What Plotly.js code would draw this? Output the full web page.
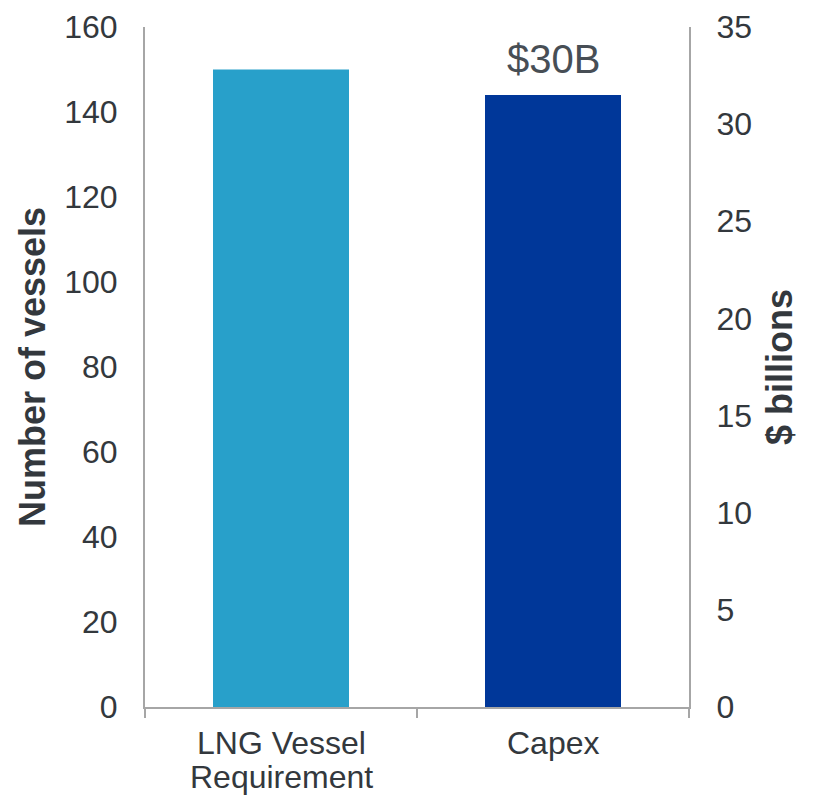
<!DOCTYPE html>
<html>
<head>
<meta charset="utf-8">
<script src="https://cdn.plot.ly/plotly-3.0.1.min.js"></script>
<style>
  html, body { margin: 0; padding: 0; background: #ffffff; }
  #chart { width: 814px; height: 797px; }
</style>
</head>
<body>
<div id="chart"></div>
<script>
// Categories on the shared x axis (lines split by <br>)
const categories = ['LNG Vessel<br>Requirement', 'Capex'];

// Number of LNG vessels required (left axis)
const vesselCount = [150];

// Capital expenditure in $ billions (right axis)
const capexBillions = [31.5];

// Headline label shown above the capex bar
const capexLabel = ['$30B'];

// Axis tick values
const vesselTicks = [0, 20, 40, 60, 80, 100, 120, 140, 160];
const billionTicks = [0, 5, 10, 15, 20, 25, 30, 35];

const FONT = 'Liberation Sans, Arial, sans-serif';
const TEXT = '#33383d';
const AXIS = '#a6a6a6';
const TICK_SIZE = 32;

const traces = [
  {
    type: 'bar',
    x: [categories[0]],
    y: vesselCount,
    yaxis: 'y',
    width: 0.5,
    marker: { color: '#28a0ca' },
    hoverinfo: 'skip'
  },
  {
    type: 'bar',
    x: [categories[1]],
    y: capexBillions,
    yaxis: 'y2',
    width: 0.5,
    marker: { color: '#003799' },
    hoverinfo: 'skip'
  }
];

// Category labels drawn line by line under the axis for tighter line spacing
const categoryAnnotations = [];
categories.forEach(function (cat) {
  cat.split('<br>').forEach(function (line, i) {
    categoryAnnotations.push({
      x: cat,
      xref: 'x',
      y: 0,
      yref: 'paper',
      text: line,
      showarrow: false,
      xanchor: 'center',
      yanchor: 'top',
      yshift: -16 - i * 34,
      font: { family: FONT, size: TICK_SIZE, color: TEXT }
    });
  });
});

const layout = {
  width: 814,
  height: 797,
  margin: { l: 145, r: 125, t: 27, b: 90 },
  paper_bgcolor: '#ffffff',
  plot_bgcolor: '#ffffff',
  showlegend: false,
  barmode: 'overlay',
  font: { family: FONT, color: TEXT, size: TICK_SIZE },
  xaxis: {
    type: 'category',
    categoryorder: 'array',
    categoryarray: categories,
    range: [-0.5, 1.5],
    showline: true,
    linecolor: AXIS,
    linewidth: 2,
    ticks: 'outside',
    tickson: 'boundaries',
    ticklen: 9,
    tickwidth: 2,
    tickcolor: AXIS,
    showticklabels: false,
    showgrid: false,
    zeroline: false,
    fixedrange: true
  },
  yaxis: {
    range: [0, 160],
    tickvals: vesselTicks,
    showline: true,
    linecolor: AXIS,
    linewidth: 2,
    ticks: '',
    ticklabelstandoff: 19,
    tickfont: { family: FONT, size: TICK_SIZE, color: TEXT },
    showgrid: false,
    zeroline: false,
    fixedrange: true,
    title: {
      text: '<b>Number of vessels</b>',
      font: { family: FONT, size: 36, color: TEXT },
      standoff: 8
    }
  },
  yaxis2: {
    range: [0, 35],
    tickvals: billionTicks,
    overlaying: 'y',
    side: 'right',
    showline: true,
    linecolor: AXIS,
    linewidth: 2,
    ticks: '',
    ticklabelstandoff: 19,
    tickfont: { family: FONT, size: TICK_SIZE, color: TEXT },
    showgrid: false,
    zeroline: false,
    fixedrange: true,
    title: {
      text: '<b>$ billions</b>',
      font: { family: FONT, size: 36, color: TEXT },
      standoff: 16
    }
  },
  annotations: [
    {
      x: categories[1],
      y: capexBillions[0],
      xref: 'x',
      yref: 'y2',
      text: capexLabel[0],
      showarrow: false,
      xanchor: 'center',
      yanchor: 'bottom',
      yshift: 12,
      font: { family: FONT, size: 40, color: '#474e55' }
    }
  ].concat(categoryAnnotations)
};

Plotly.newPlot('chart', traces, layout, { displayModeBar: false, staticPlot: true });
</script>
</body>
</html>
